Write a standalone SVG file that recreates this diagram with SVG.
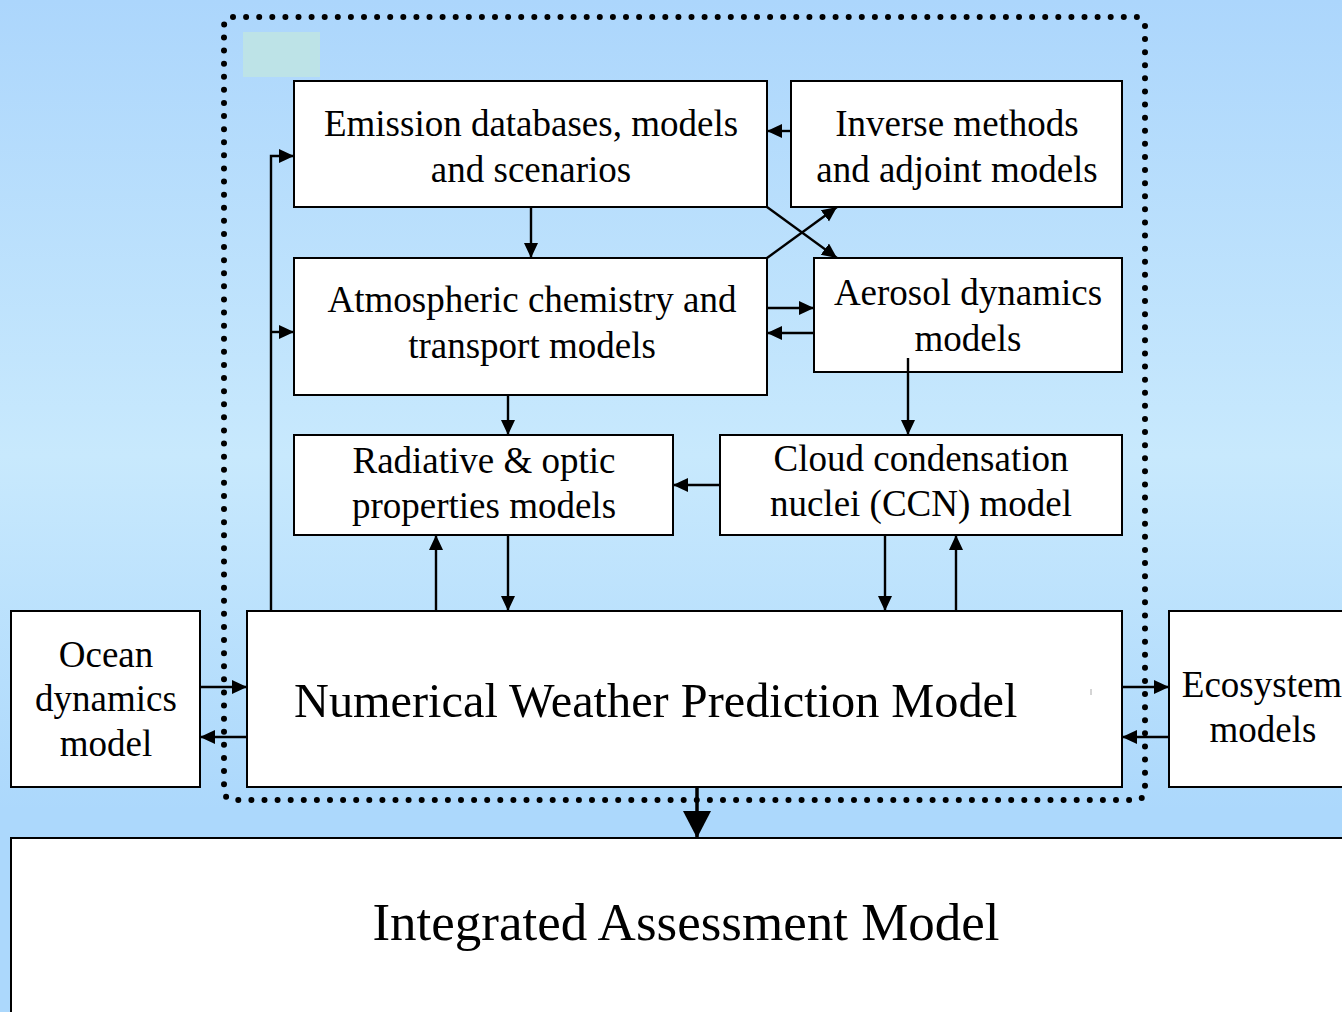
<svg xmlns="http://www.w3.org/2000/svg" width="1342" height="1012" viewBox="0 0 1342 1012">
<defs>
<linearGradient id="bg" gradientUnits="userSpaceOnUse" x1="0" y1="0" x2="0" y2="1012">
<stop offset="0" stop-color="#acd6fc"/>
<stop offset="0.45" stop-color="#c8e9fd"/>
<stop offset="0.8" stop-color="#acd8fc"/>
<stop offset="1" stop-color="#acd8fc"/>
</linearGradient>
<marker id="ah" markerUnits="userSpaceOnUse" markerWidth="16" markerHeight="15" refX="15" refY="7" orient="auto">
<path d="M0,0 L15,7 L0,14 z" fill="#000"/>
</marker>
<marker id="big" markerUnits="userSpaceOnUse" markerWidth="28" markerHeight="28" refX="27" refY="14" orient="auto">
<path d="M0,0 L27,14 L0,28 z" fill="#000"/>
</marker>
</defs>
<style>
.box{fill:#fff;stroke:#000;stroke-width:2}
.t{font-family:"Liberation Serif","Times New Roman",serif;font-size:37px;fill:#000;text-anchor:middle}
.c{fill:none;stroke:#000;stroke-width:2.4}
.a{marker-end:url(#ah)}
</style>
<rect x="0" y="0" width="1342" height="1012" fill="url(#bg)"/>
<rect x="243" y="32" width="77" height="45" fill="#bde3e7"/>
<rect x="224" y="17" width="921" height="783" rx="9" fill="none" stroke="#000" stroke-width="6" stroke-linecap="round" stroke-dasharray="0 13.1"/>

<g id="emission"><rect class="box" x="294" y="81" width="473" height="126"/>
<text class="t" x="531" y="136">Emission databases, models</text><text class="t" x="531" y="182">and scenarios</text></g>
<g id="inverse"><rect class="box" x="791" y="81" width="331" height="126"/>
<text class="t" x="957" y="136">Inverse methods</text><text class="t" x="957" y="182">and adjoint models</text></g>
<g id="atmospheric"><rect class="box" x="294" y="258" width="473" height="137"/>
<text class="t" x="532" y="312">Atmospheric chemistry and</text><text class="t" x="532" y="358">transport models</text></g>
<g id="aerosol"><rect class="box" x="814" y="258" width="308" height="114"/>
<text class="t" x="968" y="305">Aerosol dynamics</text><text class="t" x="968" y="351">models</text></g>
<g id="radiative"><rect class="box" x="294" y="435" width="379" height="100"/>
<text class="t" x="484" y="473">Radiative &amp; optic</text><text class="t" x="484" y="518">properties models</text></g>
<g id="cloud"><rect class="box" x="720" y="435" width="402" height="100"/>
<text class="t" x="921" y="471">Cloud condensation</text><text class="t" x="921" y="516">nuclei (CCN) model</text></g>
<g id="nwp"><rect class="box" x="247" y="611" width="875" height="176"/>
<text class="t" x="294" y="717" style="text-anchor:start;font-size:48.3px">Numerical Weather Prediction Model</text>
<line x1="1091" y1="689" x2="1091" y2="695" stroke="#aaa" stroke-width="1"/></g>
<g id="ocean"><rect class="box" x="11" y="611" width="189" height="176"/>
<text class="t" x="106" y="667">Ocean</text><text class="t" x="106" y="711">dynamics</text><text class="t" x="106" y="756">model</text></g>
<g id="ecosystem"><rect class="box" x="1169" y="611" width="190" height="176"/>
<text class="t" x="1262" y="697">Ecosystem</text><text class="t" x="1263" y="742">models</text></g>
<g id="integrated"><rect class="box" x="11" y="838" width="1350" height="200"/>
<text class="t" x="686" y="940" style="font-size:53px">Integrated Assessment Model</text></g>

<g id="connectors">
<path class="c a" d="M531,207 V258"/>
<path class="c a" d="M791,131 H767"/>
<path class="c a" d="M767,207 L837,258"/>
<path class="c a" d="M767,258 L837,207"/>
<path class="c a" d="M767,308 H814"/>
<path class="c a" d="M814,333 H767"/>
<path class="c a" d="M908,358 V435"/>
<path class="c a" d="M508,395 V435"/>
<path class="c a" d="M720,485 H673"/>
<path class="c a" d="M508,535 V611"/>
<path class="c a" d="M436,611 V535"/>
<path class="c a" d="M885,535 V611"/>
<path class="c a" d="M956,611 V535"/>
<path class="c a" d="M271,611 V156 H294"/>
<path class="c a" d="M271,332 H294"/>
<path class="c a" d="M200,687 H247"/>
<path class="c a" d="M247,737 H200"/>
<path class="c a" d="M1122,687 H1169"/>
<path class="c a" d="M1169,737 H1122"/>
<path d="M697,787 V838" fill="none" stroke="#000" stroke-width="3.5" marker-end="url(#big)"/>
</g>
</svg>
